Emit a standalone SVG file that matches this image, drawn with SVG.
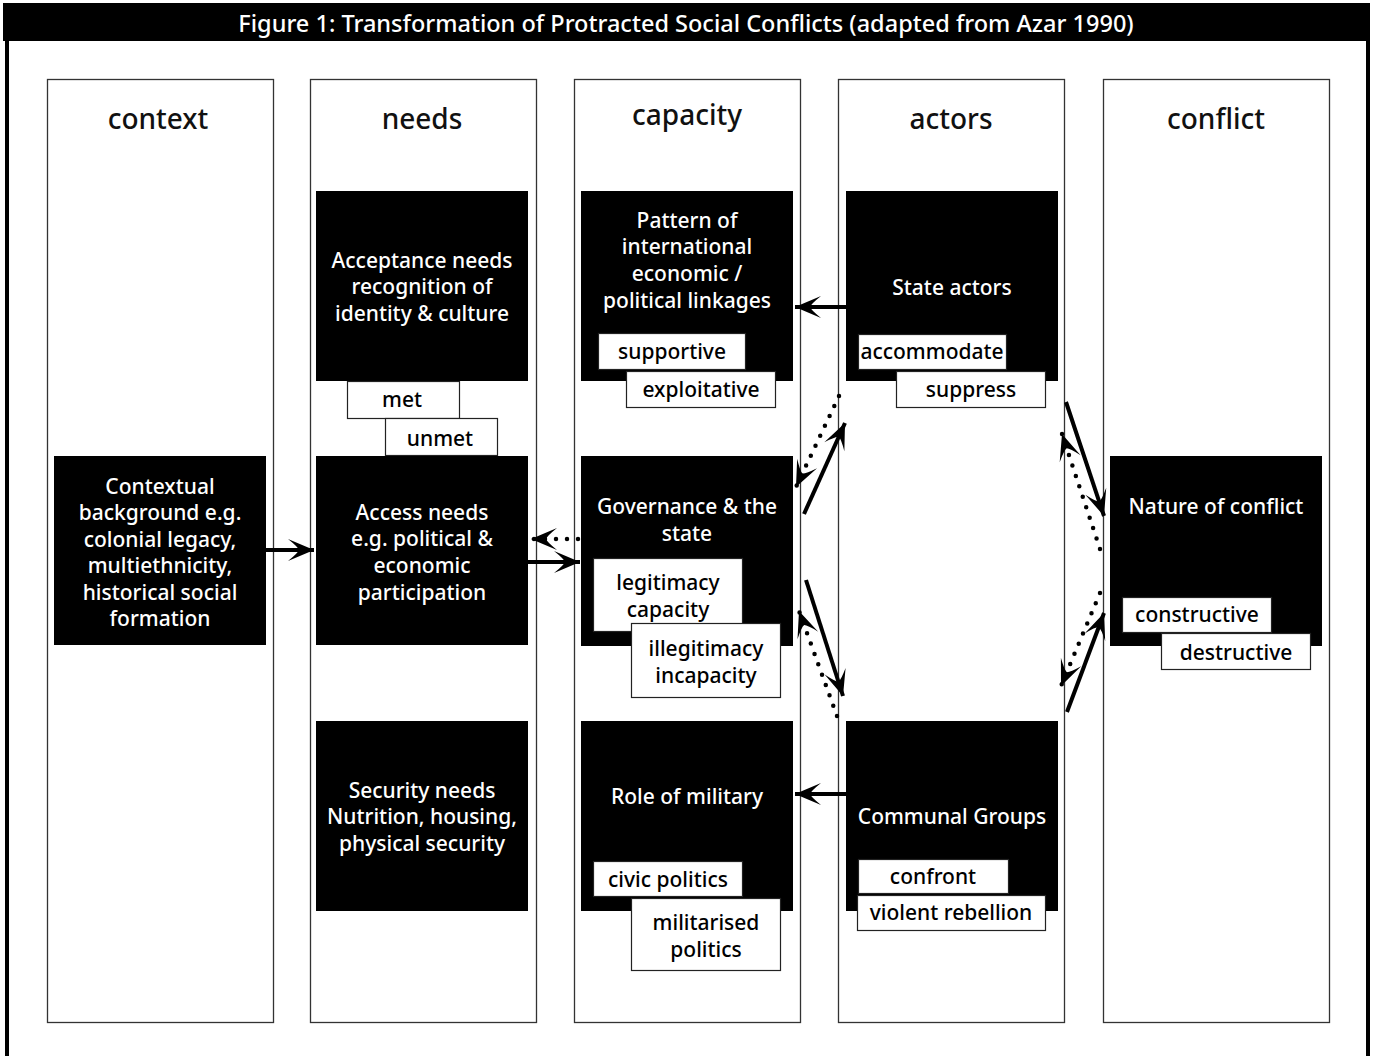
<svg xmlns="http://www.w3.org/2000/svg" width="1373" height="1056" viewBox="0 0 1373 1056">
<style>
text{font-family:"Noto Sans","Open Sans","DejaVu Sans",sans-serif;text-anchor:middle;font-weight:500}
.col{fill:#fff;stroke:#333;stroke-width:1.3}
.hd{font-size:28px;fill:#111}
.blk{fill:#000}
.wt{fill:#fff;font-size:21px}
.lb{fill:#fff;stroke:#222;stroke-width:1.2}
.lt{fill:#000;font-size:21px}
.sol{stroke:#000;stroke-width:4;fill:none}
.dot{stroke:#000;stroke-width:4.5;fill:none;stroke-dasharray:0 11;stroke-linecap:round}
</style>
<defs>
<marker id="ah" viewBox="-28 -12 30 24" refX="0" refY="0" markerWidth="30" markerHeight="24" markerUnits="userSpaceOnUse" orient="auto">
<path d="M0,0 L-26,-11 Q-16,-3 -15,0 Q-16,3 -26,11 Z" fill="#000"/>
</marker>
</defs>
<rect x="0" y="0" width="1373" height="1056" fill="#fff"/>
<g id="frame">
<rect x="3" y="3" width="1367" height="38" fill="#000"/>
<rect x="5" y="3" width="4" height="1053" fill="#000"/>
<rect x="1366" y="3" width="4" height="1053" fill="#000"/>
<text x="686" y="32" fill="#fff" font-size="23.5">Figure 1: Transformation of Protracted Social Conflicts (adapted from Azar 1990)</text>
</g>
<g id="columns">
<rect class="col" x="47.5" y="79.5" width="226" height="943"/>
<rect class="col" x="310.5" y="79.5" width="226" height="943"/>
<rect class="col" x="574.5" y="79.5" width="226" height="943"/>
<rect class="col" x="838.5" y="79.5" width="226" height="943"/>
<rect class="col" x="1103.5" y="79.5" width="226" height="943"/>
<text class="hd" x="158" y="129">context</text>
<text class="hd" x="422" y="129">needs</text>
<text class="hd" x="687" y="125">capacity</text>
<text class="hd" x="951" y="129">actors</text>
<text class="hd" x="1216" y="129">conflict</text>
</g>
<g id="connectors">
<line class="sol" x1="266" y1="550" x2="314" y2="550" marker-end="url(#ah)"/>
<line class="sol" x1="528" y1="562" x2="580" y2="562" marker-end="url(#ah)"/>
<line class="dot" x1="578" y1="539" x2="531" y2="539" marker-end="url(#ah)"/>
<line class="sol" x1="846" y1="307" x2="795" y2="307" marker-end="url(#ah)"/>
<line class="sol" x1="846" y1="794" x2="795" y2="794" marker-end="url(#ah)"/>
<line class="sol" x1="804" y1="514" x2="845" y2="423" marker-end="url(#ah)"/>
<line class="dot" x1="839" y1="396" x2="796" y2="487" marker-end="url(#ah)"/>
<line class="sol" x1="806" y1="580" x2="843" y2="696" marker-end="url(#ah)"/>
<line class="dot" x1="837" y1="716" x2="799" y2="611" marker-end="url(#ah)"/>
<line class="sol" x1="1066" y1="402" x2="1104" y2="516" marker-end="url(#ah)"/>
<line class="dot" x1="1100" y1="549" x2="1062" y2="434" marker-end="url(#ah)"/>
<line class="sol" x1="1067" y1="712" x2="1104" y2="613" marker-end="url(#ah)"/>
<line class="dot" x1="1100" y1="593" x2="1061" y2="686" marker-end="url(#ah)"/>
</g>
<g id="contextual">
<rect class="blk" x="54" y="456" width="212" height="189"/>
<text class="wt" x="160" y="494">Contextual</text>
<text class="wt" x="160" y="520">background e.g.</text>
<text class="wt" x="160" y="547">colonial legacy,</text>
<text class="wt" x="160" y="573">multiethnicity,</text>
<text class="wt" x="160" y="600">historical social</text>
<text class="wt" x="160" y="626">formation</text>
</g>
<g id="acceptance">
<rect class="blk" x="316" y="191" width="212" height="190"/>
<text class="wt" x="422" y="268">Acceptance needs</text>
<text class="wt" x="422" y="294">recognition of</text>
<text class="wt" x="422" y="321">identity &amp; culture</text>
<rect class="lb" x="347.5" y="381.5" width="112" height="37"/>
<text class="lt" x="402" y="407">met</text>
<rect class="lb" x="385.5" y="418.5" width="112" height="37"/>
<text class="lt" x="440" y="446">unmet</text>
</g>
<g id="access">
<rect class="blk" x="316" y="456" width="212" height="189"/>
<text class="wt" x="422" y="520">Access needs</text>
<text class="wt" x="422" y="546">e.g. political &amp;</text>
<text class="wt" x="422" y="573">economic</text>
<text class="wt" x="422" y="600">participation</text>
</g>
<g id="security">
<rect class="blk" x="316" y="721" width="212" height="190"/>
<text class="wt" x="422" y="798">Security needs</text>
<text class="wt" x="422" y="824">Nutrition, housing,</text>
<text class="wt" x="422" y="851">physical security</text>
</g>
<g id="pattern">
<rect class="blk" x="581" y="191" width="212" height="190"/>
<text class="wt" x="687" y="228">Pattern of</text>
<text class="wt" x="687" y="254">international</text>
<text class="wt" x="687" y="281">economic /</text>
<text class="wt" x="687" y="308">political linkages</text>
<rect class="lb" x="598.5" y="333.5" width="147" height="36"/>
<text class="lt" x="672" y="359">supportive</text>
<rect class="lb" x="626.5" y="371.5" width="149" height="36"/>
<text class="lt" x="701" y="397">exploitative</text>
</g>
<g id="governance">
<rect class="blk" x="581" y="456" width="212" height="190"/>
<text class="wt" x="687" y="514">Governance &amp; the</text>
<text class="wt" x="687" y="541">state</text>
<rect class="lb" x="593.5" y="558.5" width="149" height="73"/>
<text class="lt" x="668" y="590">legitimacy</text>
<text class="lt" x="668" y="617">capacity</text>
<rect class="lb" x="631.5" y="623.5" width="149" height="74"/>
<text class="lt" x="706" y="656">illegitimacy</text>
<text class="lt" x="706" y="683">incapacity</text>
</g>
<g id="military">
<rect class="blk" x="581" y="721" width="212" height="190"/>
<text class="wt" x="687" y="804">Role of military</text>
<rect class="lb" x="593.5" y="861.5" width="149" height="35"/>
<text class="lt" x="668" y="887">civic politics</text>
<rect class="lb" x="631.5" y="898.5" width="149" height="72"/>
<text class="lt" x="706" y="930">militarised</text>
<text class="lt" x="706" y="957">politics</text>
</g>
<g id="state">
<rect class="blk" x="846" y="191" width="212" height="190"/>
<text class="wt" x="952" y="295">State actors</text>
<rect class="lb" x="858.5" y="334.5" width="148" height="35"/>
<text class="lt" x="932" y="359">accommodate</text>
<rect class="lb" x="896.5" y="371.5" width="149" height="36"/>
<text class="lt" x="971" y="397">suppress</text>
</g>
<g id="communal">
<rect class="blk" x="846" y="721" width="212" height="190"/>
<text class="wt" x="952" y="824">Communal Groups</text>
<rect class="lb" x="858.5" y="859.5" width="150" height="34"/>
<text class="lt" x="933" y="884">confront</text>
<rect class="lb" x="857.5" y="895.5" width="188" height="35"/>
<text class="lt" x="951" y="920">violent rebellion</text>
</g>
<g id="nature">
<rect class="blk" x="1110" y="456" width="212" height="190"/>
<text class="wt" x="1216" y="514">Nature of conflict</text>
<rect class="lb" x="1122.5" y="597.5" width="149" height="35"/>
<text class="lt" x="1197" y="622">constructive</text>
<rect class="lb" x="1161.5" y="633.5" width="149" height="36"/>
<text class="lt" x="1236" y="660">destructive</text>
</g>
</svg>
